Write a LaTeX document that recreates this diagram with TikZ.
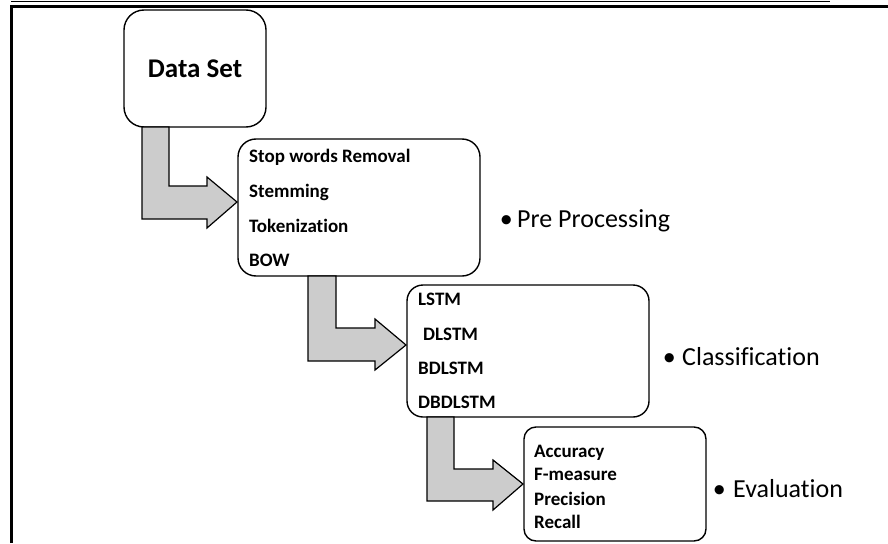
\documentclass[tikz,border=0pt]{standalone}
\usepackage{fontspec}
\setmainfont{Carlito}[Ligatures=NoCommon]
\begin{document}
\begin{tikzpicture}[x=1pt,y=-1pt,
  box/.style={draw=black,line width=1.4pt,fill=white},
  bentarrow/.style={draw=black,line width=1.2pt,fill=black!20,line join=miter},
  itemtxt/.style={anchor=base west,inner sep=0pt,font=\fontsize{19}{19}\selectfont\bfseries},
  labtxt/.style={anchor=base west,inner sep=0pt,font=\fontsize{26}{26}\selectfont},
  bul/.style={anchor=base east,inner sep=0pt,font=\fontsize{26}{26}\selectfont}]
\useasboundingbox (0,0) rectangle (888,543);
\fill[white] (0,0) rectangle (888,543);
% frame lines
\coordinate (t1) at (11,1.5); \coordinate (t2) at (830,1.5);
\draw[line width=1.5pt] (t1) -- (t2);
\coordinate (f1) at (11.5,543); \coordinate (f2) at (11.5,6.5); \coordinate (f3) at (888,6.5);
\draw[line width=3pt,line join=miter] (f1) -- (f2) -- (f3);
% boxes
\draw[box,rounded corners=20pt] (124,10) rectangle (266,127);
\node[inner sep=0pt,font=\fontsize{27}{27}\selectfont\bfseries] (ds) at (195,68.5) {Data Set};
\draw[box,rounded corners=18pt] (238,139) rectangle (480,276);
\draw[box,rounded corners=16pt] (407,285) rectangle (649,417);
\draw[box,rounded corners=12pt] (524,427) rectangle (706,541);
% bent arrows
\draw[bentarrow] (142,127) -- (169,127) -- (169,186) -- (207,186) -- (207,177) -- (237,202) -- (207,228) -- (207,219) -- (142,219) -- cycle;
\draw[bentarrow] (308,276) -- (336,276) -- (336,328) -- (375,328) -- (375,319) -- (406,345) -- (375,370) -- (375,361) -- (308,361) -- cycle;
\draw[bentarrow] (427,417) -- (454,417) -- (454,469) -- (493,469) -- (493,460) -- (523,484) -- (493,510) -- (493,501) -- (427,501) -- cycle;
% box texts
\node[itemtxt] (p1) at (249,162) {Stop words Removal};
\node[itemtxt] (p2) at (249,197) {Stemming};
\node[itemtxt] (p3) at (249,232) {Tokenization};
\node[itemtxt] (p4) at (249,266) {BOW};
\node[itemtxt] (c1) at (418,305) {LSTM};
\node[itemtxt] (c2) at (423,340) {DLSTM};
\node[itemtxt] (c3) at (418,374) {BDLSTM};
\node[itemtxt] (c4) at (418,408) {DBDLSTM};
\node[itemtxt] (e1) at (534,457) {Accuracy};
\node[itemtxt] (e2) at (534,480) {F-measure};
\node[itemtxt] (e3) at (534,505) {Precision};
\node[itemtxt] (e4) at (534,528) {Recall};
% stage labels
\node[bul] (b1) at (513,227) {\textbullet};
\node[labtxt] (l1) at (517,227) {Pre Processing};
\node[bul] (b2) at (676,365) {\textbullet};
\node[labtxt] (l2) at (682,365) {Classification};
\node[bul] (b3) at (726,497) {\textbullet};
\node[labtxt] (l3) at (733,497) {Evaluation};
\end{tikzpicture}
\end{document}
